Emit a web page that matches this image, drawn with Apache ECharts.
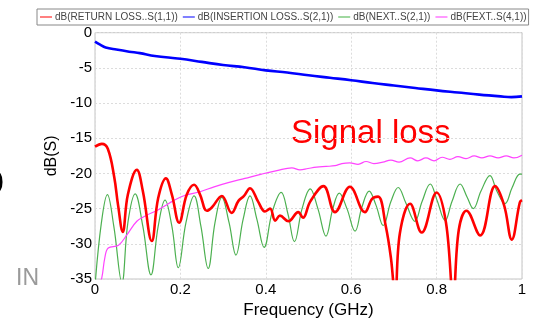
<!DOCTYPE html>
<html><head><meta charset="utf-8">
<script src="https://cdn.jsdelivr.net/npm/echarts@6/dist/echarts.min.js"></script>
<style>html,body{margin:0;padding:0;background:#fff}#c{width:539px;height:324px}</style>
</head><body><div id="c"></div>
<script>
// Series names
const seriesNames = ['dB(RETURN LOSS..S(1,1))','dB(INSERTION LOSS..S(2,1))','dB(NEXT..S(2,1))','dB(FEXT..S(4,1))'];
// Axis ticks
const xTicks = [0,0.2,0.4,0.6,0.8,1];
const yTicks = [-35,-30,-25,-20,-15,-10,-5,0];
// [frequency GHz, dB]
const returnLoss = [[0,-16.2],[0.016,-15.8],[0.030,-16.5],[0.045,-20.5],[0.054,-24.5],[0.065,-28.3],[0.077,-23.0],[0.098,-19.5],[0.112,-22.5],[0.133,-29.6],[0.148,-23.5],[0.166,-20.7],[0.180,-23.0],[0.197,-27.0],[0.215,-23.0],[0.232,-21.6],[0.246,-23.0],[0.262,-25.3],[0.274,-24.8],[0.297,-23.2],[0.320,-25.6],[0.336,-23.9],[0.349,-23.2],[0.363,-22.1],[0.382,-24.0],[0.398,-25.4],[0.410,-25.0],[0.422,-26.7],[0.433,-26.0],[0.453,-26.8],[0.476,-25.5],[0.487,-26.3],[0.504,-24.0],[0.535,-21.8],[0.562,-25.5],[0.597,-21.9],[0.632,-25.5],[0.649,-23.6],[0.663,-23.3],[0.681,-27.5],[0.693,-32.0],[0.703,-37.5],[0.714,-28.5],[0.738,-24.3],[0.765,-28.4],[0.800,-22.7],[0.822,-27.0],[0.839,-37.5],[0.852,-28.0],[0.870,-25.3],[0.902,-28.8],[0.937,-21.8],[0.958,-24.5],[0.976,-29.4],[0.995,-24.1],[1.0,-23.8]];
const insertionLoss = [[0,-1.26],[0.012,-1.7],[0.025,-2.1],[0.05,-2.4],[0.08,-2.7],[0.105,-2.9],[0.14,-3.3],[0.2,-3.7],[0.25,-4.15],[0.3,-4.6],[0.35,-4.9],[0.4,-5.35],[0.45,-5.65],[0.5,-6.05],[0.55,-6.4],[0.6,-6.75],[0.65,-7.15],[0.7,-7.5],[0.75,-7.85],[0.8,-8.2],[0.85,-8.5],[0.9,-8.8],[0.95,-9.05],[0.975,-9.15],[1.0,-9.05]];
const next = [[0,-36],[0.015,-27],[0.029,-23.0],[0.044,-27.5],[0.063,-35.5],[0.077,-27],[0.094,-22.9],[0.112,-27.5],[0.131,-34.4],[0.148,-27.5],[0.164,-23.8],[0.180,-27.5],[0.195,-33.4],[0.213,-27],[0.232,-23.2],[0.248,-27.5],[0.265,-33.5],[0.281,-27],[0.297,-23.4],[0.314,-27],[0.330,-31.6],[0.347,-26.5],[0.363,-23.2],[0.379,-26.5],[0.396,-30.5],[0.415,-25.5],[0.436,-22.7],[0.452,-25.8],[0.467,-29.7],[0.485,-25.0],[0.504,-22.2],[0.522,-25.0],[0.541,-28.9],[0.557,-25.0],[0.572,-22.8],[0.590,-25.0],[0.609,-28.2],[0.625,-24.8],[0.642,-22.5],[0.658,-24.5],[0.675,-27.4],[0.693,-24.0],[0.710,-22.0],[0.728,-24.2],[0.749,-26.8],[0.766,-24.0],[0.785,-21.5],[0.801,-23.8],[0.820,-26.7],[0.836,-24.0],[0.855,-21.5],[0.871,-23.3],[0.886,-25.0],[0.904,-22.5],[0.925,-20.3],[0.941,-22.5],[0.960,-24.3],[0.977,-22.0],[0.995,-20.1],[1.0,-20.1]];
const fext = [[0.009,-36],[0.016,-34.8],[0.023,-32.0],[0.031,-30.6],[0.055,-30.2],[0.075,-28.7],[0.098,-26.8],[0.119,-26.0],[0.144,-25.3],[0.164,-24.6],[0.183,-23.9],[0.211,-23.1],[0.246,-22.6],[0.279,-21.9],[0.312,-21.3],[0.351,-20.7],[0.390,-20.1],[0.426,-19.6],[0.461,-19.2],[0.480,-19.5],[0.499,-19.3],[0.519,-19.1],[0.541,-19.0],[0.562,-18.9],[0.578,-18.6],[0.597,-18.5],[0.616,-18.7],[0.635,-18.3],[0.653,-18.6],[0.674,-18.4],[0.693,-18.1],[0.712,-18.4],[0.738,-17.8],[0.756,-18.2],[0.775,-17.8],[0.794,-18.2],[0.813,-17.7],[0.831,-18.0],[0.850,-17.6],[0.869,-17.9],[0.888,-17.5],[0.906,-17.8],[0.925,-17.5],[0.944,-17.8],[0.963,-17.5],[0.981,-17.8],[1.0,-17.4]];

const FONT = 'Liberation Sans, Arial, sans-serif';
const chart = echarts.init(document.getElementById('c'), null, {renderer:'canvas'});
const colors = ['#ff0000','#0000ff','#4cb050','#ff44ff'];
const widths = [2.6,2.6,1.2,1.2];
const datas = [returnLoss, insertionLoss, next, fext];
chart.setOption({
  animation:false,
  backgroundColor:'#fff',
  legend:{
    data:seriesNames.map((n,i)=>({name:n,itemStyle:{color:['#ff8080','#8080ff','#a0d8a0','#ff99ff'][i]}})),
    left:37, top:9, itemWidth:12, itemHeight:2, itemGap:5, icon:'rect',
    padding:[3,2,3,3], borderColor:'#888', borderWidth:1,
    textStyle:{fontFamily:FONT,fontSize:10,color:'#444',padding:[0,0,0,-2]}
  },
  grid:{left:95,right:17,top:32.7,bottom:41,show:true,borderColor:'#c4c4c4',borderWidth:1,backgroundColor:'#fff'},
  xAxis:{type:'value',min:xTicks[0],max:xTicks[xTicks.length-1],interval:0.2,
    name:'Frequency (GHz)',nameLocation:'middle',nameGap:23,
    nameTextStyle:{fontFamily:FONT,fontSize:17,color:'#000'},
    axisLine:{show:false},axisTick:{show:false},
    axisLabel:{fontFamily:FONT,fontSize:15,color:'#000',margin:3,formatter:v=>String(+v.toFixed(1))},
    splitLine:{show:true,lineStyle:{color:'#dcdcdc',type:[2,2],width:1}}},
  yAxis:{type:'value',min:yTicks[0],max:yTicks[yTicks.length-1],interval:5,
    name:'dB(S)',nameLocation:'middle',nameGap:33,
    nameTextStyle:{fontFamily:FONT,fontSize:16,color:'#000'},
    axisLine:{show:false},axisTick:{show:false},
    axisLabel:{fontFamily:FONT,fontSize:15,color:'#000',margin:3},
    splitLine:{show:true,lineStyle:{color:'#dcdcdc',type:[2,2],width:1}}},
  series:seriesNames.map((n,i)=>({name:n,type:'line',data:datas[i],showSymbol:false,smooth:0.4,clip:true,
    lineStyle:{color:colors[i],width:widths[i]},itemStyle:{color:colors[i]},z:[4,4,2,3][i]})),
  graphic:[
    {type:'text',left:291,top:117,style:{text:'Signal loss',font:'33px '+FONT,fill:'#ff0000'}},
    {type:'text',left:-14,top:168,style:{text:'0',font:'32px '+FONT,fill:'#000'}},
    {type:'text',left:16,top:267,style:{text:'IN',font:'23px '+FONT,fill:'#9a9a9a'}}
  ]
});
</script></body></html>
